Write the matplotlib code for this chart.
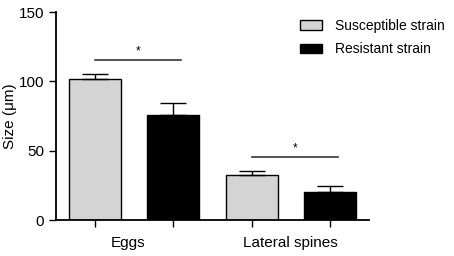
import matplotlib
matplotlib.use('Agg')
import matplotlib.pyplot as plt
import matplotlib.patches as mpatches
import numpy as np

# data
groups = ['Eggs', 'Lateral spines']
series = ['Susceptible strain', 'Resistant strain']
means = {'Susceptible strain': [102, 32.5], 'Resistant strain': [75.5, 20.5]}
errs = {'Susceptible strain': [3, 3], 'Resistant strain': [9, 4.3]}
colors = {'Susceptible strain': '#d4d4d4', 'Resistant strain': '#000000'}
sig_y = [115.3, 45.6]

plt.rcParams['font.family'] = ['Liberation Sans', 'DejaVu Sans']

fig = plt.figure(figsize=(4.54, 2.56), dpi=100)
ax = fig.add_axes([56 / 454, 36 / 256, 313 / 454, 208 / 256])

width = 0.665
positions = {}
for i, s in enumerate(series):
    pos = np.arange(len(groups)) * 2 + i
    positions[s] = pos
    ax.bar(pos, means[s], width=width, color=colors[s], edgecolor='black', linewidth=1.0, zorder=2)
    ax.errorbar(pos, means[s], yerr=[np.zeros(len(groups)), errs[s]], fmt='none',
                ecolor='black', elinewidth=1.0, capsize=9.5, capthick=1.0, zorder=3)

# significance bars
for g in range(len(groups)):
    x0 = positions[series[0]][g]
    x1 = positions[series[1]][g]
    ax.plot([x0, x1 + 0.1], [sig_y[g], sig_y[g]], color='#222222', lw=1.1, zorder=3)
    ax.text((x0 + x1 + 0.1) / 2, sig_y[g] + 2, '*', ha='center', va='bottom', fontsize=8.5)

ax.set_xlim(-0.5, 3.5)
ax.set_ylim(0, 150)
ax.set_yticks([0, 50, 100, 150])
ax.set_xticks(np.concatenate([positions[s] for s in series]))
ax.set_xticklabels([])
ax.tick_params(axis='both', direction='out', length=5, width=1.0, labelsize=11, color='black')
for i, g in enumerate(groups):
    ax.text(i * 2 + 0.5 - (0.08 if i == 0 else 0), -16.5, g, ha='center', va='center', fontsize=11)

ax.set_ylabel('Size (\u03bcm)', fontsize=11)
ax.yaxis.set_label_coords(-0.125, 0.5)
for sp in ['top', 'right']:
    ax.spines[sp].set_visible(False)
for sp in ['left', 'bottom']:
    ax.spines[sp].set_linewidth(1.3)

handles = [mpatches.Patch(facecolor=colors[s], edgecolor='black', linewidth=1.0, label=s) for s in series]
fig.legend(handles=handles, loc='upper left', bbox_to_anchor=(287 / 454, 1 - 6 / 256),
           frameon=False, fontsize=10, handlelength=1.6, handleheight=0.7,
           handletextpad=0.95, labelspacing=0.7)

plt.savefig('out.png', dpi=100)
